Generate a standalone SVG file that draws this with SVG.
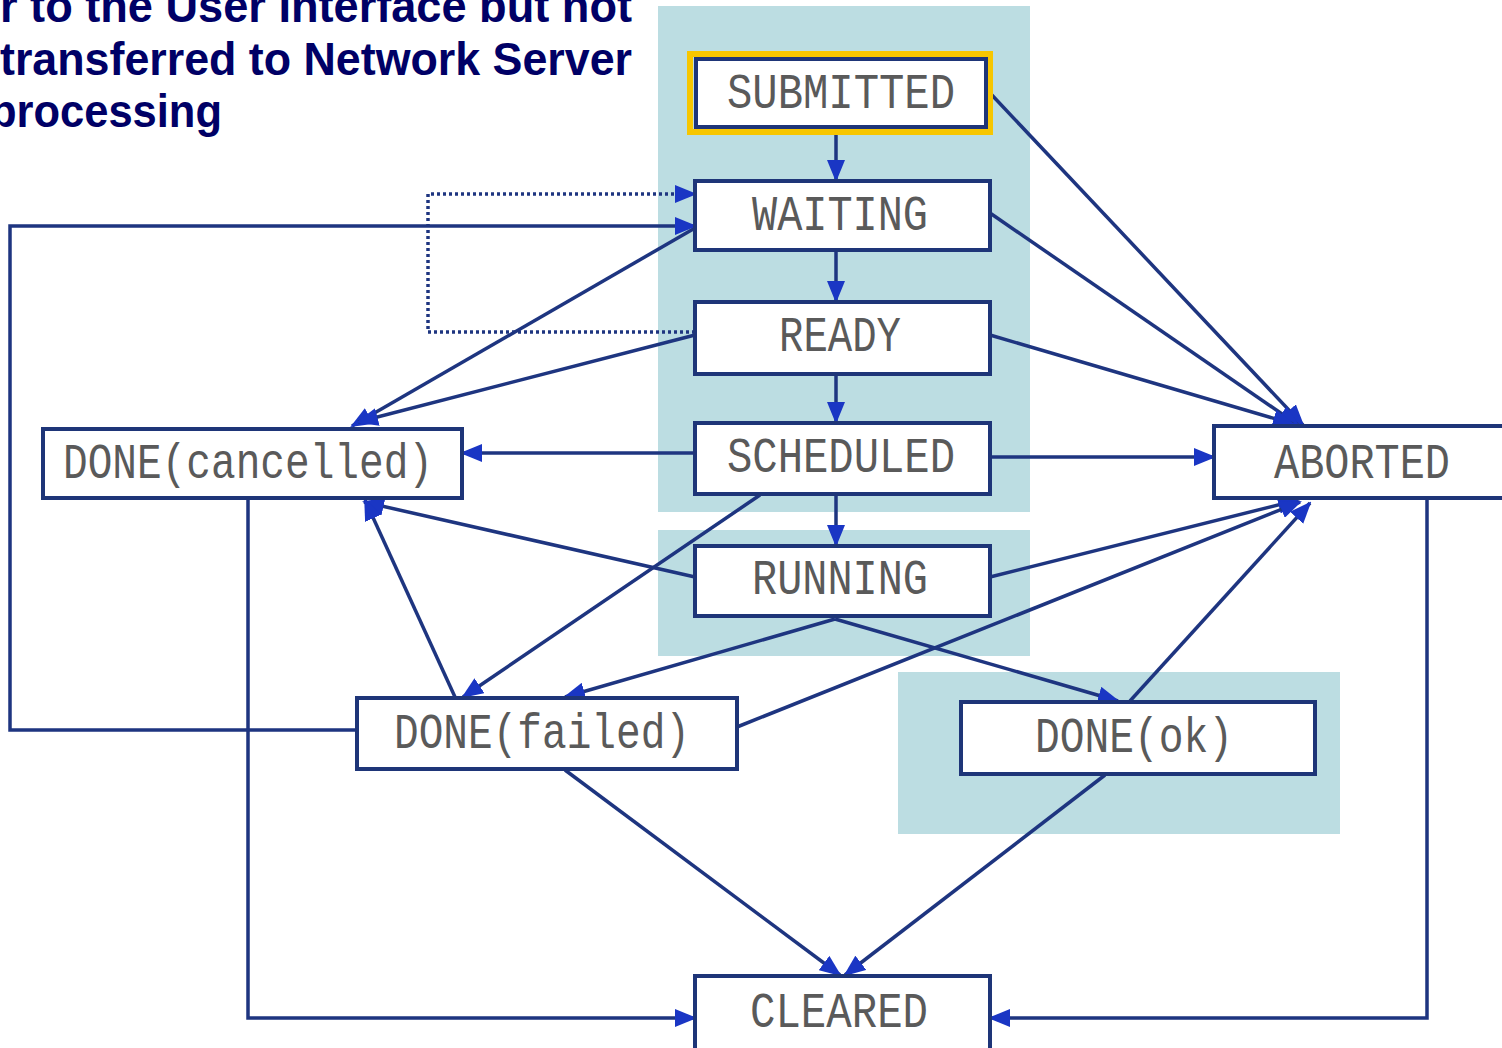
<svg xmlns="http://www.w3.org/2000/svg" width="1502" height="1048" viewBox="0 0 1502 1048">
  <style>
    .panel { fill: #bcdde2; }
    .box { fill: #ffffff; stroke: #1e3578; stroke-width: 4; }
    .label { font-family: "Liberation Mono", "Courier New", monospace; font-size: 50px; fill: #5a5a5a; text-anchor: middle; }
    .title { font-family: "Liberation Sans", Arial, sans-serif; font-weight: bold; font-size: 46px; fill: #000066; }
    .edge { fill: none; stroke: #1e3580; stroke-width: 3.5; }
    .dotted { stroke-dasharray: 3 3; }
  </style>
  <defs>
    <marker id="arrow" markerUnits="userSpaceOnUse" markerWidth="22" markerHeight="18" refX="20" refY="9" orient="auto">
      <path d="M0,0 L22,9 L0,18 z" fill="#1a36c4"/>
    </marker>
  </defs>

  <rect width="1502" height="1048" fill="#ffffff"/>

  <!-- heading text -->
  <g id="heading">
    <text class="title" x="0" y="22" textLength="632" lengthAdjust="spacingAndGlyphs">r to the User Interface but not</text>
    <text class="title" x="0" y="75" textLength="632" lengthAdjust="spacingAndGlyphs">transferred to Network Server</text>
    <text class="title" x="-10" y="127" textLength="232" lengthAdjust="spacingAndGlyphs">processing</text>
  </g>

  <!-- shaded state groups -->
  <g id="panels">
    <rect class="panel" x="658" y="6" width="372" height="506"/>
    <rect class="panel" x="658" y="530" width="372" height="126"/>
    <rect class="panel" x="898" y="672" width="442" height="162"/>
  </g>

  <g id="connectors">
    <!-- main chain -->
    <line class="edge" x1="836" y1="133" x2="836" y2="180" marker-end="url(#arrow)"/>
    <line class="edge" x1="836" y1="250" x2="836" y2="301" marker-end="url(#arrow)"/>
    <line class="edge" x1="836" y1="375" x2="836" y2="422" marker-end="url(#arrow)"/>
    <line class="edge" x1="836" y1="495" x2="836" y2="545" marker-end="url(#arrow)"/>
    <!-- to ABORTED -->
    <line class="edge" x1="990" y1="93" x2="1303" y2="425" marker-end="url(#arrow)"/>
    <line class="edge" x1="990" y1="213" x2="1298" y2="425" marker-end="url(#arrow)"/>
    <line class="edge" x1="990" y1="335" x2="1293" y2="424" marker-end="url(#arrow)"/>
    <line class="edge" x1="990" y1="457" x2="1214" y2="457" marker-end="url(#arrow)"/>
    <line class="edge" x1="990" y1="577" x2="1298" y2="500" marker-end="url(#arrow)"/>
    <line class="edge" x1="737" y1="727" x2="1300" y2="502" marker-end="url(#arrow)"/>
    <line class="edge" x1="1130" y1="701" x2="1310" y2="503" marker-end="url(#arrow)"/>
    <!-- to DONE(cancelled) -->
    <line class="edge" x1="695" y1="453" x2="462" y2="453" marker-end="url(#arrow)"/>
    <line class="edge" x1="695" y1="228" x2="352" y2="426" marker-end="url(#arrow)"/>
    <line class="edge" x1="695" y1="335" x2="358" y2="422" marker-end="url(#arrow)"/>
    <line class="edge" x1="695" y1="577" x2="364" y2="502" marker-end="url(#arrow)"/>
    <line class="edge" x1="455" y1="697" x2="365" y2="500" marker-end="url(#arrow)"/>
    <!-- to DONE(failed) -->
    <line class="edge" x1="760" y1="495" x2="463" y2="697" marker-end="url(#arrow)"/>
    <line class="edge" x1="835" y1="619" x2="565" y2="697" marker-end="url(#arrow)"/>
    <!-- to DONE(ok) -->
    <line class="edge" x1="835" y1="619" x2="1118" y2="701" marker-end="url(#arrow)"/>
    <!-- to CLEARED -->
    <line class="edge" x1="565" y1="770" x2="840" y2="975" marker-end="url(#arrow)"/>
    <line class="edge" x1="1105" y1="775" x2="845" y2="975" marker-end="url(#arrow)"/>
    <polyline class="edge" points="248,498 248,1018 695,1018" marker-end="url(#arrow)"/>
    <polyline class="edge" points="1427,498 1427,1018 990,1018" marker-end="url(#arrow)"/>
    <!-- back to WAITING -->
    <polyline class="edge" points="357,730 10,730 10,226 695,226" marker-end="url(#arrow)"/>
    <polyline class="edge dotted" points="695,332 428,332 428,194 695,194" marker-end="url(#arrow)"/>
  </g>

  <g id="node-submitted">
    <rect x="690" y="54" width="300" height="78" fill="none" stroke="#f7c600" stroke-width="6"/>
    <rect class="box" x="696" y="59" width="290" height="68" stroke-width="2"/>
    <text class="label" x="841" y="108" textLength="228" lengthAdjust="spacingAndGlyphs">SUBMITTED</text>
  </g>
  <g id="node-waiting">
    <rect class="box" x="695" y="181" width="295" height="69"/>
    <text class="label" x="840" y="230" textLength="176" lengthAdjust="spacingAndGlyphs">WAITING</text>
  </g>
  <g id="node-ready">
    <rect class="box" x="695" y="302" width="295" height="72"/>
    <text class="label" x="840" y="351" textLength="122" lengthAdjust="spacingAndGlyphs">READY</text>
  </g>
  <g id="node-scheduled">
    <rect class="box" x="695" y="423" width="295" height="71"/>
    <text class="label" x="841" y="472" textLength="228" lengthAdjust="spacingAndGlyphs">SCHEDULED</text>
  </g>
  <g id="node-running">
    <rect class="box" x="695" y="546" width="295" height="70"/>
    <text class="label" x="840" y="594" textLength="176" lengthAdjust="spacingAndGlyphs">RUNNING</text>
  </g>
  <g id="node-done-cancelled">
    <rect class="box" x="43" y="429" width="419" height="69"/>
    <text class="label" x="248" y="478" textLength="370" lengthAdjust="spacingAndGlyphs">DONE(cancelled)</text>
  </g>
  <g id="node-aborted">
    <rect class="box" x="1214" y="426" width="300" height="72"/>
    <text class="label" x="1362" y="478" textLength="176" lengthAdjust="spacingAndGlyphs">ABORTED</text>
  </g>
  <g id="node-done-failed">
    <rect class="box" x="357" y="698" width="380" height="71"/>
    <text class="label" x="542" y="748" textLength="296" lengthAdjust="spacingAndGlyphs">DONE(failed)</text>
  </g>
  <g id="node-done-ok">
    <rect class="box" x="961" y="702" width="354" height="72"/>
    <text class="label" x="1134" y="752" textLength="198" lengthAdjust="spacingAndGlyphs">DONE(ok)</text>
  </g>
  <g id="node-cleared">
    <rect class="box" x="695" y="976" width="295" height="80"/>
    <text class="label" x="839" y="1027" textLength="178" lengthAdjust="spacingAndGlyphs">CLEARED</text>
  </g>
</svg>
